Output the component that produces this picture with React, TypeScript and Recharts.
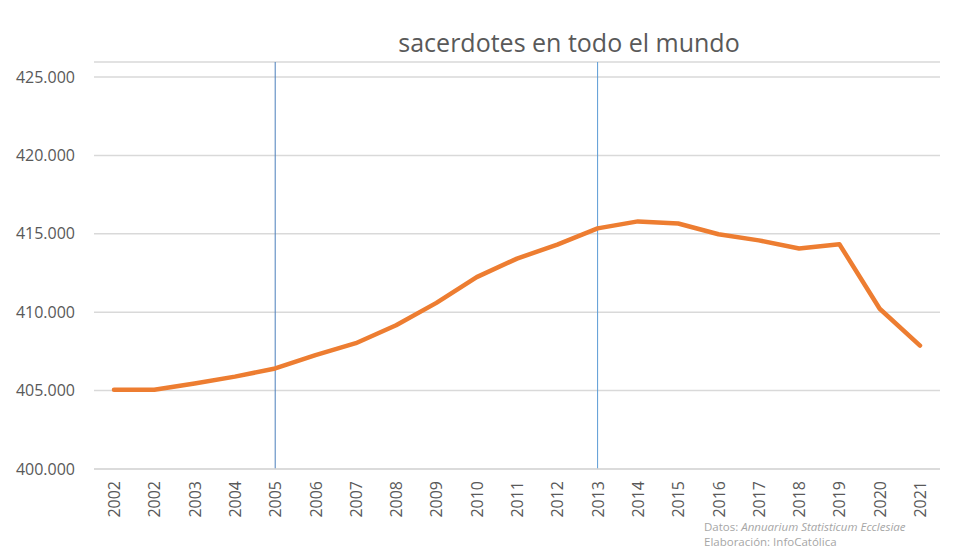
import React from "react";
import {LineChart, Line, XAxis, YAxis, CartesianGrid, ReferenceLine} from "recharts";

// año (la primera categoría se repite en el original)
const years = ["2002", "2002", "2003", "2004", "2005", "2006", "2007", "2008", "2009", "2010", "2011", "2012", "2013", "2014", "2015", "2016", "2017", "2018", "2019", "2020", "2021"];
const priests = [405058, 405058, 405450, 405891, 406411, 407262, 408024, 409166, 410593, 412236, 413418, 414313, 415348, 415792, 415656, 414969, 414582, 414065, 414336, 410219, 407872];
const yTicks = [400000, 405000, 410000, 415000, 420000, 425000];
const markedYears = [4, 12]; // 2005, 2013

const data = years.map((year, idx) => ({idx, year, priests: priests[idx]}));

const fmt = (v: number) => v.toLocaleString("de-DE");

function YearTick(props: any) {
	const {x, y, payload} = props;
	const yy = y + 12;
	return (
		<text
			x={x}
			y={yy}
			transform={`rotate(-90, ${x}, ${yy})`}
			textAnchor='end'
			dominantBaseline='central'
			fill='#595959'
			fontSize={16}
			fontFamily='Open Sans'
		>
			{years[payload.value]}
		</text>
	);
}

export default function App() {
	return (
		<div style={{position: "absolute", left: 0, top: 0, width: 963, height: 557, background: "#fff", fontFamily: "Open Sans"}}>
			<div style={{position: "absolute", left: 0, width: 1138, top: 26, textAlign: "center", fontSize: 25, color: "#595959", lineHeight: "32px"}}>
				sacerdotes en todo el mundo
			</div>
			<LineChart
				width={963}
				height={557}
				data={data}
				margin={{top: 62, right: 23, bottom: 0, left: 0}}
			>
				<CartesianGrid
					vertical={false}
					stroke='#D9D9D9'
					strokeWidth={1.5}
				/>
				<XAxis
					dataKey='idx'
					type='category'
					height={88}
					padding={{left: 20, right: 20}}
					stroke='#D9D9D9'
					strokeWidth={1.5}
					tickLine={false}
					tickSize={0}
					tickMargin={0}
					interval={0}
					tick={<YearTick />}
				/>
				<YAxis
					width={94}
					domain={[400000, 425957]}
					ticks={yTicks}
					tickFormatter={fmt}
					axisLine={false}
					tickLine={false}
					tickSize={0}
					tickMargin={19}
					tick={{fill: "#595959", fontSize: 16, fontFamily: "Open Sans"}}
				/>
				<ReferenceLine
					x={markedYears[0]}
					stroke='#4A7EBB'
					strokeWidth={1}
				/>
				<ReferenceLine
					x={markedYears[1]}
					stroke='#5B9BD5'
					strokeWidth={1}
				/>
				<Line
					type='linear'
					dataKey='priests'
					stroke='#ED7D31'
					strokeWidth={4.5}
					dot={false}
					strokeLinecap='round'
					strokeLinejoin='round'
					isAnimationActive={false}
				/>
			</LineChart>
			<div style={{position: "absolute", left: 704, top: 519, fontSize: 11.5, lineHeight: "15px", color: "#A6A6A6"}}>
				<div>
					Datos: <i>Annuarium Statisticum Ecclesiae</i>
				</div>
				<div>Elaboración: InfoCatólica</div>
			</div>
		</div>
	);
}
